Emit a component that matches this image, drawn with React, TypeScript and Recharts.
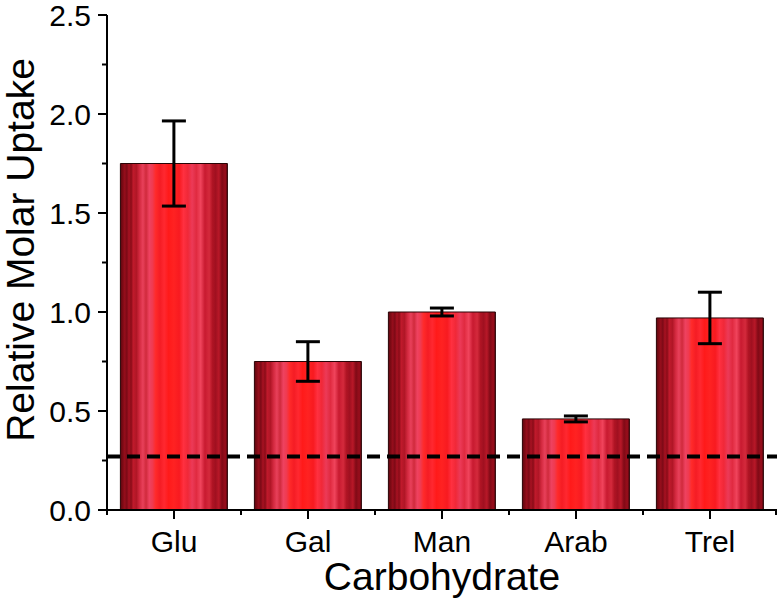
import React from 'react';
import { BarChart, Bar, XAxis, YAxis, ErrorBar, ReferenceLine } from 'recharts';

const carbs = ['Glu', 'Gal', 'Man', 'Arab', 'Trel'];
const uptake = [1.75, 0.75, 1.0, 0.46, 0.97];
const uptakeErr = [0.215, 0.1, 0.02, 0.015, 0.13];
const yTicks = [0, 0.25, 0.5, 0.75, 1.0, 1.25, 1.5, 1.75, 2.0, 2.25, 2.5];
const baseline = 0.27;

const FONT = '"Liberation Sans", Arial, sans-serif';
const PLOT_LEFT = 107;
const PLOT_BOTTOM = 510;
const BAND = 134;

const data = carbs.map((name, i) => ({ name, value: uptake[i], err: uptakeErr[i] }));

const YTick = (props: any) => {
  const { y, payload } = props;
  const v = payload.value as number;
  const major = Math.abs(v * 2 - Math.round(v * 2)) < 1e-6;
  return (
    <g>
      <line x1={PLOT_LEFT} x2={PLOT_LEFT - (major ? 9 : 5)} y1={y} y2={y} stroke="#000" strokeWidth={2} />
      {major && (
        <text x={PLOT_LEFT - 16} y={y} dy={11} textAnchor="end" fontSize={30} fontFamily={FONT} fill="#000">
          {v.toFixed(1)}
        </text>
      )}
    </g>
  );
};

const XTick = (props: any) => {
  const { x, payload, index } = props;
  const half = BAND / 2;
  return (
    <g>
      <line x1={x} x2={x} y1={PLOT_BOTTOM} y2={PLOT_BOTTOM + 9} stroke="#000" strokeWidth={2} />
      <line x1={x - half} x2={x - half} y1={PLOT_BOTTOM} y2={PLOT_BOTTOM + 5} stroke="#000" strokeWidth={2} />
      {index === carbs.length - 1 && (
        <line x1={x + half - 1} x2={x + half - 1} y1={PLOT_BOTTOM} y2={PLOT_BOTTOM + 5} stroke="#000" strokeWidth={2} />
      )}
      <text x={x} y={PLOT_BOTTOM + 42} textAnchor="middle" fontSize={30} fontFamily={FONT} fill="#000">
        {payload.value}
      </text>
    </g>
  );
};

// vertical stripes of the bar fill (offset %, colour)
const stripes: [number, string][] = [
  [0, '#5e0610'], [2, '#7a0a14'], [4, '#960e1c'], [6, '#7c0a16'], [8, '#a81222'],
  [10, '#8a0c18'], [12, '#c01a2c'], [15, '#b01626'], [18, '#d42a40'], [21, '#e8405a'],
  [24, '#d02a3c'], [27, '#ee4260'], [30, '#f03a50'], [33, '#ff2a2a'], [37, '#f51c24'],
  [41, '#ff2830'], [45, '#ff1a1a'], [50, '#ff2222'], [55, '#f81a20'], [59, '#ff3040'],
  [63, '#f02838'], [67, '#ec3a58'], [71, '#e02a40'], [75, '#f0445c'], [79, '#c81a30'],
  [83, '#d42a3c'], [86, '#b01424'], [89, '#a01020'], [92, '#b81828'], [95, '#800a16'],
  [98, '#9a0e1c'], [100, '#5e0610'],
];

export default function App() {
  return (
    <div style={{ position: 'absolute', left: 0, top: 0 }}>
      <BarChart
        width={780}
        height={605}
        data={data}
        margin={{ top: 15, right: 3, bottom: 35, left: 0 }}
        barCategoryGap="10%"
      >
        <defs>
          <linearGradient id="barFill" x1="0" y1="0" x2="1" y2="0">
            {stripes.map(([o, c], i) => (
              <stop key={i} offset={`${o}%`} stopColor={c} />
            ))}
          </linearGradient>
        </defs>
        <XAxis
          dataKey="name"
          height={60}
          axisLine={{ stroke: '#000', strokeWidth: 2 }}
          tickLine={false}
          tick={<XTick />}
          interval={0}
        />
        <YAxis
          width={107}
          domain={[0, 2.5]}
          ticks={yTicks}
          interval={0}
          axisLine={{ stroke: '#000', strokeWidth: 2 }}
          tickLine={false}
          tick={<YTick />}
        />
        <Bar dataKey="value" fill="url(#barFill)" stroke="#2a0406" strokeWidth={1} isAnimationActive={false}>
          <ErrorBar dataKey="err" width={12} stroke="#000" strokeWidth={3} />
        </Bar>
        <ReferenceLine y={baseline} stroke="#000" strokeWidth={4} strokeDasharray="13 7" />
        <text
          x={34}
          y={250}
          transform="rotate(-90 34 250)"
          textAnchor="middle"
          fontSize={39}
          fontFamily={FONT}
          fill="#000"
        >
          Relative Molar Uptake
        </text>
        <text x={442} y={590} textAnchor="middle" fontSize={39} fontFamily={FONT} fill="#000">
          Carbohydrate
        </text>
      </BarChart>
    </div>
  );
}
